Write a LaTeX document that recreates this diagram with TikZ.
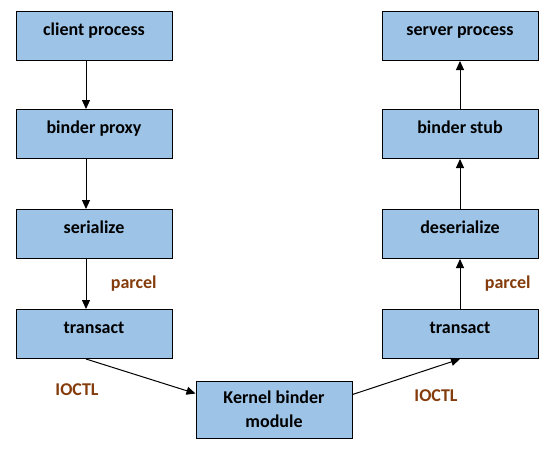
\documentclass[tikz,border=0pt]{standalone}
\usepackage{fontspec}
\setmainfont{Carlito}
\usetikzlibrary{arrows.meta}
\definecolor{boxblue}{HTML}{9DC3E6}
\definecolor{labelbrown}{HTML}{843C0C}
\tikzset{
  stage/.style={draw, line width=1pt, fill=boxblue, minimum width=156pt, minimum height=49pt, text height=11pt, text depth=12pt, font=\fontsize{18}{24}\selectfont\bfseries},
  kernelbox/.style={stage, minimum height=57pt, text height=, text depth=, align=center},
  tag/.style={text=labelbrown, font=\fontsize{18}{24}\selectfont\bfseries}
}
\begin{document}
\begin{tikzpicture}[x=1pt, y=-1pt, >={Triangle[length=9pt,width=8pt]}, line width=1pt]
\useasboundingbox (0,0) rectangle (556,450);

\node [stage] (client) at (94,36) {client process};
\node [stage] (proxy) at (94,134) {binder proxy};
\node [stage] (ser) at (94,234) {serialize};
\node [stage] (ctrans) at (94,334) {transact};

\node [stage] (server) at (460,36) {server process};
\node [stage] (stub) at (460,134) {binder stub};
\node [stage] (deser) at (460,234) {deserialize};
\node [stage] (strans) at (460,334) {transact};

\node [kernelbox] (kernel) at (274,409.5) {Kernel binder\\module};

\draw [->] ([xshift=-8pt]client.south) -- ([xshift=-8pt]proxy.north);
\draw [->] ([xshift=-8pt]proxy.south) -- ([xshift=-8pt]ser.north);
\draw [->] ([xshift=-8pt]ser.south) -- ([xshift=-8pt]ctrans.north) node [tag, midway, right=21pt] {parcel};
\draw [->] ([xshift=-8pt]ctrans.south) -- ([yshift=16pt]kernel.west);

\draw [->] ([yshift=15pt]kernel.east) -- (strans.south);
\draw [->] (strans.north) -- (deser.south) node [tag, midway, right=21pt] {parcel};
\draw [->] (deser.north) -- (stub.south);
\draw [->] (stub.north) -- (server.south);

\node [tag] (ioctlL) at (77,390) {IOCTL};
\node [tag] (ioctlR) at (436,396) {IOCTL};
\end{tikzpicture}
\end{document}
